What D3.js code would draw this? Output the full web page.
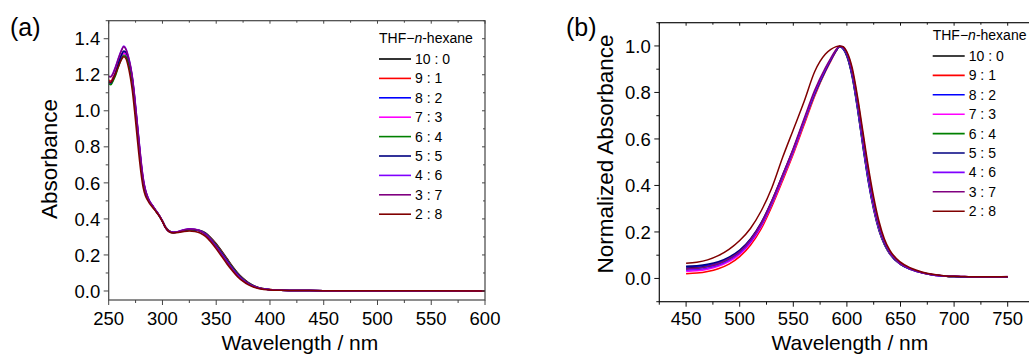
<!DOCTYPE html>
<html>
<head>
<meta charset="utf-8">
<script src="https://cdn.jsdelivr.net/npm/d3@7"></script>
<style>
  body { margin: 0; background: #fff; }
  text { font-family: "Liberation Sans", Arial, sans-serif; fill: #000; }
</style>
</head>
<body>
<svg id="viz" width="1029" height="355"></svg>
<script>
const ratios = ["10 : 0", "9 : 1", "8 : 2", "7 : 3", "6 : 4", "5 : 5", "4 : 6", "3 : 7", "2 : 8"];
const colors = ["#000000", "#ff0000", "#0000ff", "#ff00ff", "#008000", "#000080", "#8000ff", "#800080", "#800000"];

// panel (a): absorbance
const wlA = [250,252,254,256,258,260,262,264,266,268,270,272,274,276,278,280,282,284,286,288,291,294,297,300,303,306,
  310,315,320,325,330,335,340,345,350,355,360,365,370,375,380,385,390,400,410,420,450,500,550,600];
const a100 = [1.16,1.155,1.175,1.20,1.235,1.27,1.30,1.32,1.31,1.28,1.23,1.16,1.05,0.93,0.81,0.70,0.61,0.555,0.52,0.495,0.47,0.445,0.42,0.39,0.355,0.335,
  0.326,0.328,0.335,0.34,0.34,0.336,0.322,0.295,0.262,0.222,0.18,0.138,0.10,0.07,0.046,0.029,0.018,0.008,0.004,0.003,0.002,0.001,0.001,0.0];
const a91 = [1.17,1.165,1.185,1.21,1.245,1.28,1.31,1.33,1.32,1.29,1.24,1.17,1.06,0.94,0.82,0.705,0.612,0.556,0.52,0.495,0.47,0.445,0.42,0.388,0.352,0.333,
  0.325,0.328,0.336,0.341,0.34,0.335,0.320,0.292,0.258,0.218,0.176,0.134,0.097,0.067,0.044,0.028,0.017,0.008,0.004,0.003,0.002,0.001,0.001,0.0];
const a82 = [1.15,1.148,1.17,1.20,1.24,1.28,1.31,1.33,1.32,1.29,1.245,1.175,1.07,0.95,0.83,0.71,0.615,0.558,0.522,0.496,0.47,0.444,0.418,0.386,0.35,0.332,
  0.325,0.329,0.337,0.342,0.341,0.334,0.318,0.289,0.254,0.214,0.172,0.130,0.094,0.065,0.042,0.027,0.016,0.007,0.004,0.003,0.002,0.001,0.001,0.0];
const a73 = [1.16,1.158,1.178,1.205,1.24,1.275,1.305,1.32,1.315,1.285,1.24,1.17,1.065,0.945,0.825,0.71,0.615,0.557,0.521,0.495,0.469,0.443,0.417,0.385,0.35,0.331,
  0.324,0.329,0.337,0.342,0.34,0.333,0.316,0.286,0.250,0.210,0.168,0.127,0.091,0.062,0.041,0.026,0.016,0.007,0.004,0.003,0.002,0.001,0.001,0.0];
const a64 = [1.15,1.145,1.165,1.19,1.225,1.26,1.29,1.305,1.30,1.27,1.225,1.155,1.05,0.935,0.815,0.70,0.61,0.555,0.52,0.494,0.468,0.442,0.416,0.385,0.35,0.331,
  0.323,0.327,0.335,0.34,0.339,0.333,0.317,0.288,0.254,0.213,0.171,0.130,0.094,0.065,0.042,0.027,0.016,0.007,0.004,0.003,0.002,0.001,0.001,0.0];
const a55 = [1.16,1.155,1.178,1.205,1.24,1.28,1.31,1.33,1.325,1.295,1.25,1.18,1.075,0.955,0.835,0.715,0.618,0.56,0.523,0.497,0.471,0.444,0.418,0.386,0.35,0.331,
  0.324,0.329,0.337,0.342,0.34,0.333,0.316,0.286,0.250,0.210,0.168,0.127,0.091,0.062,0.041,0.026,0.016,0.007,0.004,0.003,0.002,0.001,0.001,0.0];
const a46 = [1.19,1.19,1.21,1.24,1.275,1.31,1.34,1.36,1.345,1.31,1.26,1.19,1.09,0.97,0.85,0.73,0.632,0.568,0.528,0.5,0.473,0.446,0.42,0.387,0.35,0.331,
  0.325,0.331,0.34,0.345,0.343,0.334,0.314,0.284,0.247,0.206,0.164,0.124,0.088,0.060,0.039,0.025,0.015,0.007,0.004,0.003,0.002,0.001,0.001,0.0];
const a37 = [1.19,1.188,1.205,1.235,1.27,1.305,1.335,1.355,1.34,1.305,1.255,1.185,1.085,0.965,0.845,0.725,0.628,0.565,0.526,0.499,0.472,0.445,0.419,0.386,0.349,0.33,
  0.324,0.33,0.339,0.344,0.342,0.332,0.312,0.281,0.244,0.202,0.160,0.120,0.085,0.058,0.038,0.024,0.015,0.007,0.004,0.003,0.002,0.001,0.001,0.0];
const a28 = [1.16,1.158,1.175,1.20,1.23,1.26,1.285,1.30,1.29,1.25,1.19,1.11,1.0,0.88,0.76,0.655,0.575,0.53,0.505,0.485,0.462,0.44,0.415,0.385,0.35,0.33,
  0.322,0.324,0.33,0.333,0.33,0.322,0.303,0.272,0.234,0.192,0.150,0.112,0.078,0.053,0.034,0.021,0.013,0.006,0.004,0.003,0.002,0.001,0.001,0.0];

// panel (b): normalized absorbance
const wlB = [450,460,470,480,490,500,510,520,530,540,550,560,570,580,585,590,593,596,600,605,610,615,620,625,630,635,640,
  650,660,670,680,690,700,710,720,730,740,750];
const b100 = [0.045,0.047,0.052,0.063,0.083,0.113,0.16,0.23,0.325,0.435,0.55,0.675,0.795,0.895,0.94,0.98,0.998,0.99,0.955,0.865,
  0.725,0.565,0.415,0.295,0.205,0.145,0.105,0.06,0.038,0.024,0.015,0.011,0.008,0.007,0.006,0.006,0.006,0.006];
const b91 = [0.02,0.023,0.03,0.042,0.062,0.094,0.143,0.213,0.31,0.42,0.535,0.66,0.785,0.89,0.935,0.978,0.998,0.995,0.965,0.88,
  0.745,0.585,0.435,0.31,0.215,0.15,0.108,0.062,0.039,0.025,0.016,0.011,0.008,0.007,0.006,0.006,0.006,0.006];
const b82 = [0.05,0.052,0.057,0.068,0.088,0.118,0.166,0.235,0.33,0.44,0.553,0.676,0.795,0.895,0.94,0.98,0.998,0.99,0.958,0.87,
  0.73,0.57,0.42,0.30,0.208,0.147,0.106,0.06,0.038,0.024,0.015,0.011,0.008,0.007,0.006,0.006,0.006,0.006];
const b73 = [0.03,0.033,0.04,0.052,0.072,0.103,0.152,0.222,0.318,0.428,0.542,0.668,0.79,0.892,0.938,0.979,0.998,0.993,0.962,0.878,
  0.74,0.58,0.43,0.305,0.212,0.149,0.107,0.061,0.038,0.024,0.015,0.011,0.008,0.007,0.006,0.006,0.006,0.006];
const b64 = [0.04,0.043,0.05,0.061,0.081,0.111,0.159,0.229,0.324,0.434,0.548,0.673,0.793,0.894,0.94,0.98,0.998,0.994,0.963,0.882,
  0.748,0.59,0.44,0.315,0.218,0.152,0.109,0.062,0.039,0.025,0.016,0.011,0.008,0.007,0.006,0.006,0.006,0.006];
const b55 = [0.052,0.055,0.061,0.072,0.092,0.122,0.17,0.24,0.335,0.445,0.557,0.68,0.798,0.897,0.941,0.981,0.998,0.995,0.966,0.887,
  0.755,0.6,0.45,0.322,0.224,0.156,0.112,0.064,0.04,0.025,0.016,0.011,0.008,0.007,0.006,0.006,0.006,0.006];
const b46 = [0.035,0.038,0.045,0.057,0.078,0.109,0.158,0.229,0.325,0.436,0.55,0.676,0.8,0.9,0.944,0.983,0.999,0.996,0.968,0.89,
  0.76,0.605,0.455,0.327,0.228,0.158,0.113,0.064,0.04,0.025,0.016,0.011,0.009,0.008,0.007,0.007,0.007,0.007];
const b37 = [0.042,0.045,0.052,0.064,0.085,0.116,0.166,0.237,0.334,0.445,0.56,0.687,0.81,0.907,0.948,0.985,0.999,0.997,0.97,0.895,
  0.768,0.615,0.465,0.335,0.233,0.162,0.116,0.066,0.041,0.026,0.017,0.012,0.009,0.008,0.007,0.007,0.007,0.008];
const b28 = [0.065,0.07,0.08,0.098,0.125,0.163,0.215,0.29,0.39,0.52,0.64,0.76,0.89,0.965,0.985,0.997,1.0,0.998,0.975,0.905,
  0.78,0.63,0.48,0.35,0.245,0.17,0.122,0.07,0.044,0.028,0.018,0.012,0.009,0.008,0.007,0.007,0.007,0.007];

const seriesA = [a100, a91, a82, a73, a64, a55, a46, a37, a28];
const seriesB = [b100, b91, b82, b73, b64, b55, b46, b37, b28];

const xTicksA = [250, 300, 350, 400, 450, 500, 550, 600];
const yTicksA = [0.0, 0.2, 0.4, 0.6, 0.8, 1.0, 1.2, 1.4];
const xTicksB = [450, 500, 550, 600, 650, 700, 750];
const yTicksB = [0.0, 0.2, 0.4, 0.6, 0.8, 1.0];

const svg = d3.select("#viz");

function drawPanel(opt) {
  const x = d3.scaleLinear().domain(opt.xDomain).range([opt.left, opt.right]);
  const y = d3.scaleLinear().domain(opt.yDomain).range([opt.bottom, opt.top]);
  const g = svg.append("g");
  const frame = opt.frame;

  const clipId = "clip-" + opt.name;
  g.append("clipPath").attr("id", clipId).append("rect")
    .attr("x", opt.left).attr("y", opt.top)
    .attr("width", opt.right - opt.left).attr("height", opt.bottom - opt.top);

  // curves
  const line = d3.line().x(d => x(d[0])).y(d => y(d[1])).curve(d3.curveMonotoneX);
  const plot = g.append("g").attr("clip-path", `url(#${clipId})`);
  opt.series.forEach((vals, i) => {
    plot.append("path")
      .datum(opt.wl.map((w, j) => [w, vals[j]]))
      .attr("fill", "none")
      .attr("stroke", colors[i])
      .attr("stroke-width", 1.5)
      .attr("stroke-linejoin", "round")
      .attr("d", line);
  });

  // frame
  g.append("rect")
    .attr("x", opt.left).attr("y", opt.top)
    .attr("width", opt.right - opt.left).attr("height", opt.bottom - opt.top)
    .attr("fill", "none").attr("stroke", frame).attr("stroke-width", 1.2);

  // minor / major ticks on x
  const xMinor = d3.range(opt.xDomain[0], opt.xDomain[1] + 0.01, 25);
  xMinor.forEach(v => {
    const major = opt.xTicks.includes(v);
    const px = x(v);
    g.append("line").attr("x1", px).attr("x2", px)
      .attr("y1", opt.bottom).attr("y2", opt.bottom + (major ? 5 : 3))
      .attr("stroke", frame).attr("stroke-width", 1);
    g.append("line").attr("x1", px).attr("x2", px)
      .attr("y1", opt.top).attr("y2", opt.top + (major ? 3 : 2))
      .attr("stroke", frame).attr("stroke-width", 1);
  });
  g.selectAll(null).data(opt.xTicks).enter().append("text")
    .attr("x", d => x(d)).attr("y", 325)
    .attr("text-anchor", "middle").attr("font-size", 18.5)
    .text(d => d);

  const yMinor = d3.range(Math.ceil(opt.yDomain[0] * 10), Math.floor(opt.yDomain[1] * 10) + 1).map(k => k / 10);
  yMinor.forEach(v => {
    const major = opt.yTicks.some(t => Math.abs(t - v) < 1e-6);
    const py = y(v);
    g.append("line").attr("x1", opt.left).attr("x2", opt.left - (major ? 5 : 3))
      .attr("y1", py).attr("y2", py)
      .attr("stroke", frame).attr("stroke-width", 1);
    g.append("line").attr("x1", opt.right).attr("x2", opt.right - (major ? 3 : 2))
      .attr("y1", py).attr("y2", py)
      .attr("stroke", frame).attr("stroke-width", 1);
  });
  g.selectAll(null).data(opt.yTicks).enter().append("text")
    .attr("x", opt.left - 8.5).attr("y", d => y(d))
    .attr("dy", "0.36em")
    .attr("text-anchor", "end").attr("font-size", 18.5)
    .text(d => d.toFixed(1));

  // axis titles
  g.append("text")
    .attr("x", (opt.left + opt.right) / 2 + 3).attr("y", 350)
    .attr("text-anchor", "middle").attr("font-size", 21)
    .text("Wavelength / nm");
  g.append("text")
    .attr("transform", `translate(${opt.yTitleX},${opt.yTitleY}) rotate(-90)`)
    .attr("text-anchor", "middle").attr("font-size", 22.5)
    .text(opt.yTitle);

  // panel label
  g.append("text")
    .attr("x", opt.labelX).attr("y", 36)
    .attr("font-size", 25)
    .text(opt.label);

  // legend
  const lg = g.append("g");
  const title = lg.append("text")
    .attr("x", opt.legX).attr("y", opt.legY)
    .attr("font-size", 14);
  title.append("tspan").text("THF\u2212");
  title.append("tspan").attr("font-style", "italic").text("n");
  title.append("tspan").text("-hexane");

  ratios.forEach((r, i) => {
    const ry = opt.legY + 16 + i * 19.4;
    lg.append("line")
      .attr("x1", opt.legX).attr("x2", opt.legX + 32)
      .attr("y1", ry).attr("y2", ry)
      .attr("stroke", colors[i]).attr("stroke-width", 1.6);
    lg.append("text")
      .attr("x", opt.legX + 36).attr("y", ry + 5)
      .attr("font-size", 14)
      .text(r);
  });
}

drawPanel({
  name: "a", label: "(a)", labelX: 10,
  left: 108.7, right: 485, top: 20.7, bottom: 300,
  xDomain: [250, 600], yDomain: [-0.05, 1.5],
  xTicks: xTicksA, yTicks: yTicksA,
  wl: wlA, series: seriesA, frame: "#444",
  yTitle: "Absorbance", yTitleX: 57, yTitleY: 159,
  legX: 379, legY: 43
});

drawPanel({
  name: "b", label: "(b)", labelX: 566,
  left: 659.3, right: 1034.5, top: 22.7, bottom: 301.7,
  xDomain: [425, 775], yDomain: [-0.1, 1.1],
  xTicks: xTicksB, yTicks: yTicksB,
  wl: wlB, series: seriesB, frame: "#111",
  yTitle: "Normalized Absorbance", yTitleX: 612.5, yTitleY: 154,
  legX: 932.7, legY: 40
});
</script>
</body>
</html>
